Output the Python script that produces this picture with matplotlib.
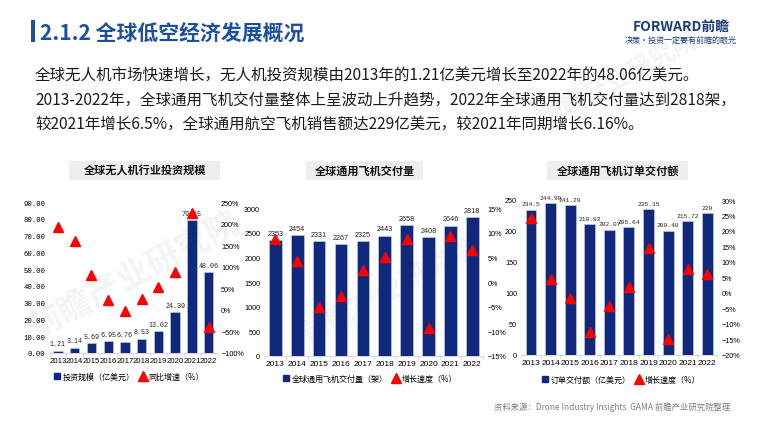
import matplotlib.pyplot as plt
from matplotlib.patches import Rectangle, Patch
from matplotlib.lines import Line2D

plt.rcParams['font.family'] = ['Noto Sans CJK SC', 'DejaVu Sans']

years = ['2013', '2014', '2015', '2016', '2017', '2018', '2019', '2020', '2021', '2022']

# 全球无人机行业投资规模 (亿美元) / 同比增速 (%)
drone_invest = [1.21, 3.14, 5.69, 6.95, 6.76, 8.53, 13.02, 24.39, 79.15, 48.06]
drone_growth = [192, 159, 81, 22, -3, 26, 53, 87, 225, -39]

# 全球通用飞机交付量 (架) / 增长速度 (%)
ga_delivery = [2353, 2454, 2331, 2267, 2325, 2443, 2658, 2408, 2646, 2818]
ga_delivery_growth = [8.8, 4.3, -5.0, -2.8, 2.5, 5.1, 8.8, -9.4, 9.4, 6.5]

# 全球通用飞机订单交付额 (亿美元) / 增长速度 (%)
ga_billing = [234.5, 244.99, 241.29, 210.92, 202.07, 205.64, 235.15, 200.48, 215.72, 229]
ga_billing_growth = [24.2, 4.5, -1.6, -12.7, -4.3, 1.8, 14.4, -14.8, 7.7, 6.2]

NAVY = '#10297d'
RED = '#ff0000'
W, H = 760, 427


def fx(x):
    return x / W


def fy(y):
    return 1 - y / H


fig = plt.figure(figsize=(7.6, 4.27), dpi=100)

# faint watermarks, behind everything
for (x, y, s) in [(135, 275, 24), (620, 80, 18), (390, 290, 20)]:
    fig.text(fx(x), fy(y), '前瞻产业研究院', fontsize=s, color='#f2f4f8',
             rotation=28, ha='center', va='center', fontweight='bold', zorder=-5)

# header
fig.add_artist(Rectangle((fx(30.5), fy(43)), fx(4.5), 22 / H, transform=fig.transFigure,
                         color='#1d4f9f', lw=0))
fig.text(fx(40), fy(33), '2.1.2 全球低空经济发展概况', fontsize=15, color='#1d4f9f',
         va='center', ha='left', fontweight='bold')
fig.text(fx(681), fy(27), 'FORWARD前瞻', fontsize=10, color='#1b3b7c', fontweight='bold',
         ha='center', va='center')
fig.text(fx(681), fy(40), '决策·投资一定要有前瞻的眼光', fontsize=5.8, color='#1b3b7c',
         ha='center', va='center')

body = [
    '全球无人机市场快速增长，无人机投资规模由2013年的1.21亿美元增长至2022年的48.06亿美元。',
    '2013-2022年，全球通用飞机交付量整体上呈波动上升趋势，2022年全球通用飞机交付量达到2818架，',
    '较2021年增长6.5%，全球通用航空飞机销售额达229亿美元，较2021年同期增长6.16%。',
]
for i, line in enumerate(body):
    fig.text(fx(35), fy(75 + 24.5 * i), line, fontsize=11.2, color='#1a1a1a',
             ha='left', va='center')

fig.text(fx(730), fy(407), '资料来源：Drone Industry Insights  GAMA 前瞻产业研究院整理',
         fontsize=6, color='#7f7f7f', ha='right', va='center')


def chart(rect, title, tbox, bars, growth, left_lim, left_ticks, left_fmt,
          right_lim, right_ticks, bar_labels, label_font, label_size, tick_font, bar_w,
          legend_names, legend_xy, xtick_size):
    ax = fig.add_axes(rect)
    ax.set_facecolor('none')
    x = list(range(len(years)))
    ax.bar(x, bars, width=bar_w, color=NAVY, edgecolor='#c9d3ea', linewidth=0.4, zorder=2)
    ax.set_xlim(-0.5, len(years) - 0.5)
    ax.set_ylim(*left_lim)
    ax.set_yticks(left_ticks)
    ax.set_yticklabels([left_fmt(v) for v in left_ticks], fontsize=5.2, family=tick_font)
    ax.set_xticks(x)
    ax.set_xticklabels(years, fontsize=xtick_size, family='Liberation Sans')
    ax.set_xticks([i - 0.5 for i in range(len(years) + 1)], minor=True)
    ax.tick_params(axis='x', which='major', length=0, pad=3)
    ax.tick_params(axis='x', which='minor', length=2, color='#d0d0d0')
    ax.tick_params(axis='y', length=0, pad=3)
    for s in ['top', 'left', 'right']:
        ax.spines[s].set_visible(False)
    ax.spines['bottom'].set_color('#d0d0d0')
    ax.spines['bottom'].set_linewidth(0.6)
    for i, v in enumerate(bars):
        ax.annotate(bar_labels[i], (i, v), xytext=(0, 2.5), textcoords='offset points',
                    ha='center', va='bottom', fontsize=label_size, family=label_font,
                    color='#222222', zorder=3)

    ax2 = ax.twinx()
    ax2.plot(x, growth, linestyle='none', marker='^', markersize=6.5, color=RED, zorder=4)
    ax2.set_ylim(*right_lim)
    ax2.set_yticks(right_ticks)
    ax2.set_yticklabels([f'{v}%'.replace('-', '\u2212') for v in right_ticks],
                        fontsize=5.2, family='Liberation Sans')
    ax2.tick_params(axis='y', length=0, pad=3)
    for s in ['top', 'left', 'right', 'bottom']:
        ax2.spines[s].set_visible(False)

    x0, y0, x1, y1 = tbox
    fig.add_artist(Rectangle((fx(x0), fy(y1)), (x1 - x0) / W, (y1 - y0) / H,
                             transform=fig.transFigure, color='#eeeeee', lw=0))
    fig.text(fx((x0 + x1) / 2), fy((y0 + y1) / 2), title, fontsize=8, fontweight='bold',
             ha='center', va='center', color='#111111')

    handles = [Patch(color=NAVY, label=legend_names[0]),
               Line2D([], [], linestyle='none', marker='^', markersize=6.5, color=RED,
                      label=legend_names[1])]
    fig.legend(handles=handles, loc='center', bbox_to_anchor=(fx(legend_xy[0]), fy(legend_xy[1])),
               ncol=2, frameon=False, fontsize=5.8, handlelength=0.8, handleheight=0.8,
               handletextpad=0.3, columnspacing=0.6, borderpad=0)
    return ax


chart([fx(49.6), fy(354), 167.4 / W, 151 / H], '全球无人机行业投资规模', (69, 162, 220, 181),
      drone_invest, drone_growth, (0, 90), list(range(0, 91, 10)), lambda v: f'{v:.2f}',
      (-100, 250), list(range(-100, 251, 50)), [f'{v:.2f}' for v in drone_invest],
      'Liberation Mono', 4.8, 'Liberation Mono', 0.56,
      ['投资规模（亿美元）', '同比增速（%）'], (129, 377), 5.6)

chart([fx(264.4), fy(356.7), 218.9 / W, 147.4 / H], '全球通用飞机交付量', (306, 162, 423, 181),
      ga_delivery, ga_delivery_growth, (0, 3000), list(range(0, 3001, 500)), lambda v: f'{v}',
      (-15, 15), list(range(-15, 16, 5)), [str(v) for v in ga_delivery],
      'Liberation Sans', 5.2, 'Liberation Sans', 0.58,
      ['全球通用飞机交付量（架）', '增长速度（%）'], (370, 379), 6)

chart([fx(521.2), fy(355.7), 195.9 / W, 154.7 / H], '全球通用飞机订单交付额', (547, 162, 688, 181),
      ga_billing, ga_billing_growth, (0, 250), list(range(0, 251, 50)), lambda v: f'{v}',
      (-20, 30), list(range(-20, 31, 5)), [f'{v:g}' for v in ga_billing],
      'Liberation Mono', 4.5, 'Liberation Sans', 0.56,
      ['订单交付额（亿美元）', '增长速度（%）'], (621, 380), 6)

fig.savefig('out.png', dpi=100)
